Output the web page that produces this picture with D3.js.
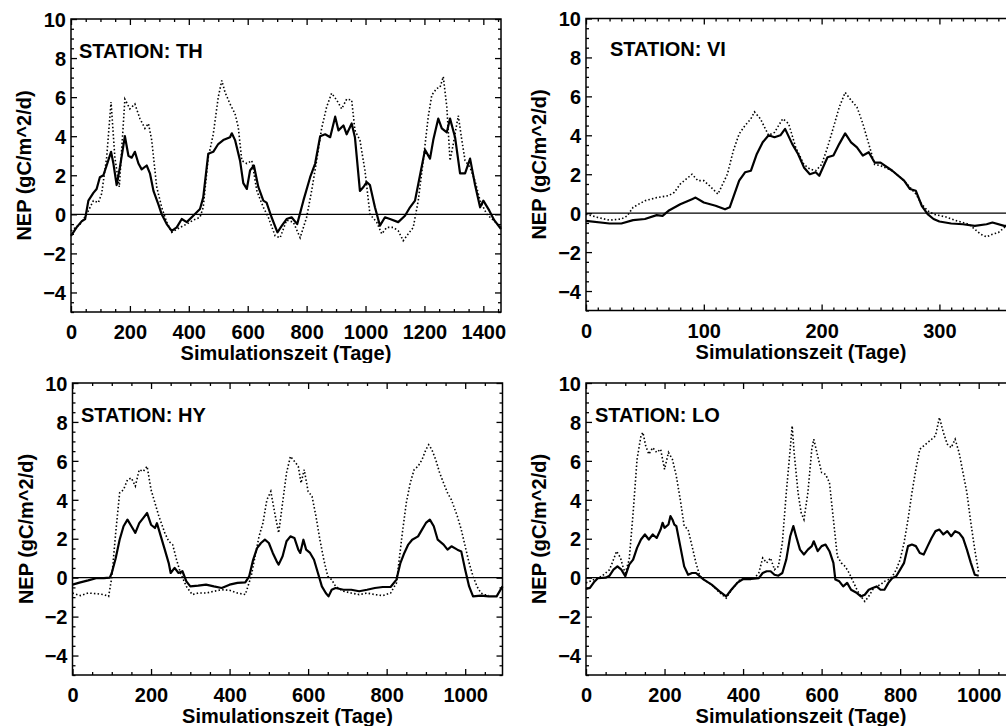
<!DOCTYPE html>
<html><head><meta charset="utf-8">
<script src="https://cdn.jsdelivr.net/npm/d3@7"></script>
<style>
body{margin:0;background:#fff;}
svg{display:block;}
text{font-family:"Liberation Sans",Arial,Helvetica,sans-serif;font-weight:bold;fill:#000;}
</style>
</head><body>
<svg id="chart" width="1006" height="726"></svg>
<script>
// ---------- data: [day, NEP] ----------
const thSolid = [[0,-1.1],[19,-0.67],[36,-0.36],[48,-0.24],[59,0.7],[76,1.1],[87,1.3],[98,1.9],[110,2.0],[121,2.5],[136,3.2],[144,2.6],[155,1.5],[166,2.4],[183,4.0],[195,3.0],[206,2.9],[217,3.2],[229,2.6],[240,2.3],[257,2.5],[268,2.1],[280,1.2],[297,0.5],[308,0],[325,-0.5],[342,-0.85],[359,-0.67],[376,-0.24],[393,-0.4],[415,-0.07],[438,0.27],[449,0.87],[466,3.1],[483,3.2],[500,3.6],[517,3.8],[540,3.95],[546,4.15],[557,3.8],[574,2.75],[585,1.6],[597,1.3],[608,2.25],[621,2.5],[636,1.4],[653,0.7],[664,0.6],[681,-0.15],[701,-0.92],[716,-0.58],[732,-0.24],[749,-0.15],[768,-0.5],[789,0.7],[812,1.9],[829,2.6],[846,4.0],[863,4.1],[880,3.95],[897,5.0],[908,4.3],[925,4.55],[936,4.1],[953,4.65],[964,3.95],[981,1.2],[993,1.4],[1004,1.65],[1015,1.5],[1032,0.36],[1049,-0.58],[1066,-0.15],[1083,-0.24],[1111,-0.4],[1134,-0.07],[1151,0.36],[1168,0.7],[1185,2.0],[1202,3.3],[1219,2.85],[1230,3.8],[1247,4.9],[1259,4.4],[1276,4.2],[1287,4.9],[1304,3.95],[1321,2.1],[1338,2.1],[1355,2.85],[1372,1.5],[1389,0.36],[1400,0.7],[1420,0.2],[1437,-0.3],[1460,-0.75]];
const thDotted = [[0,-0.85],[31,-0.5],[53,0],[76,0.7],[93,0.6],[104,1.05],[121,2.9],[136,5.75],[149,2.9],[164,1.4],[183,5.9],[200,5.4],[217,5.65],[234,4.9],[251,4.4],[263,4.65],[274,3.8],[291,1.4],[308,0.36],[325,-0.4],[342,-0.92],[370,-0.67],[393,-0.5],[415,-0.3],[438,-0.15],[449,0.36],[466,2.9],[483,4.1],[500,6.0],[512,6.85],[523,6.25],[540,5.65],[557,5.15],[568,4.45],[580,2.75],[597,2.6],[614,2.75],[631,1.2],[653,0.36],[670,-0.15],[693,-1.1],[710,-1.2],[732,-0.3],[755,-0.4],[778,-1.2],[800,-0.15],[817,1.2],[834,2.75],[851,4.4],[868,5.5],[885,6.2],[902,5.85],[919,5.4],[936,5.9],[953,5.85],[964,4.3],[981,3.8],[998,2.25],[1015,0],[1038,-0.4],[1055,-1.0],[1072,-0.67],[1094,-0.67],[1111,-0.84],[1128,-1.35],[1145,-1.0],[1162,-0.67],[1179,0.7],[1196,2.75],[1213,5.0],[1225,6.1],[1242,6.45],[1253,6.5],[1264,7.05],[1276,5.5],[1287,2.75],[1298,3.6],[1315,5.05],[1327,3.8],[1338,2.75],[1355,2.4],[1372,1.7],[1389,0.7],[1412,0],[1434,-0.3],[1460,-0.67]];

const viSolid = [[0,-0.4],[20,-0.53],[30,-0.53],[40,-0.36],[50,-0.3],[60,-0.1],[65,-0.14],[70,0.12],[80,0.46],[90,0.72],[93,0.8],[100,0.55],[110,0.38],[118,0.2],[122,0.3],[130,1.67],[135,2.1],[140,2.18],[145,3.04],[150,3.64],[155,4.0],[160,3.9],[165,4.0],[169,4.33],[175,3.56],[180,3.04],[185,2.35],[190,2.0],[195,2.1],[198,1.92],[205,2.87],[210,2.96],[215,3.56],[220,4.1],[225,3.64],[230,3.38],[235,2.96],[240,3.13],[245,2.6],[250,2.6],[260,2.18],[270,1.67],[275,1.24],[280,1.15],[285,0.38],[290,-0.05],[295,-0.3],[300,-0.43],[310,-0.53],[320,-0.57],[330,-0.65],[340,-0.57],[345,-0.48],[355,-0.65],[365,-0.7]];
const viDotted = [[0,-0.05],[10,-0.22],[20,-0.36],[30,-0.3],[35,-0.14],[40,0.3],[50,0.64],[60,0.8],[70,0.9],[75,1.07],[80,1.5],[90,2.0],[95,1.67],[100,1.67],[105,1.4],[112,0.98],[120,2.0],[125,3.2],[130,4.07],[135,4.5],[140,4.85],[143,5.2],[148,4.85],[155,4.0],[160,4.15],[167,4.85],[172,4.6],[178,3.38],[185,2.5],[190,2.27],[195,2.18],[200,2.5],[205,3.38],[210,4.4],[215,5.45],[220,6.2],[225,5.8],[230,5.45],[235,4.6],[240,3.56],[245,2.5],[250,2.44],[260,2.18],[270,1.67],[280,0.98],[285,0.46],[290,0.12],[295,-0.05],[305,-0.19],[315,-0.4],[325,-0.57],[335,-1.08],[340,-1.22],[345,-1.08],[350,-1.0],[355,-0.74],[365,-0.4]];

const hySolid = [[0,-0.36],[20,-0.24],[40,-0.14],[60,-0.03],[80,-0.02],[95,0],[100,0.24],[110,1.0],[120,1.95],[130,2.64],[140,2.98],[150,2.64],[160,2.3],[170,2.8],[180,3.06],[190,3.32],[200,2.72],[210,2.55],[215,2.8],[225,2.12],[235,1.44],[245,0.75],[250,0.24],[260,0.5],[270,0.24],[280,0.33],[290,-0.19],[300,-0.45],[320,-0.41],[340,-0.36],[360,-0.45],[380,-0.53],[400,-0.36],[420,-0.27],[440,-0.24],[450,0.07],[460,0.92],[470,1.52],[480,1.78],[490,1.95],[500,1.78],[510,1.27],[520,0.84],[525,0.67],[535,1.1],[545,1.87],[555,2.12],[565,2.04],[575,1.44],[580,1.27],[588,1.95],[595,1.44],[605,1.27],[615,0.92],[625,0.24],[635,-0.45],[645,-0.79],[652,-0.96],[660,-0.62],[670,-0.53],[690,-0.62],[710,-0.62],[730,-0.7],[750,-0.62],[770,-0.53],[790,-0.48],[810,-0.48],[825,-0.1],[835,0.75],[845,1.27],[855,1.7],[865,1.95],[880,2.12],[890,2.47],[900,2.81],[910,2.98],[920,2.64],[930,1.95],[945,1.7],[955,1.44],[965,1.61],[980,1.44],[990,1.35],[1000,0.41],[1010,-0.45],[1020,-0.96],[1040,-0.92],[1060,-0.96],[1080,-0.96],[1095,-0.45]];
const hyDotted = [[0,-0.79],[20,-0.92],[40,-0.79],[60,-0.82],[80,-0.87],[92,-0.96],[100,0],[110,2.3],[120,4.35],[130,4.52],[140,5.03],[150,5.12],[160,4.7],[170,5.55],[180,5.46],[190,5.72],[200,4.52],[210,3.84],[220,3.15],[235,2.3],[245,1.87],[255,1.7],[265,0.92],[275,0.24],[290,-0.45],[305,-0.87],[320,-0.79],[340,-0.79],[360,-0.7],[380,-0.62],[400,-0.65],[420,-0.79],[440,-0.87],[455,0.07],[465,1.1],[475,2.12],[485,2.81],[495,4.0],[505,4.43],[515,3.32],[525,2.3],[535,3.84],[545,5.38],[555,6.23],[565,5.98],[575,5.72],[582,4.86],[590,5.55],[600,4.43],[610,4.18],[620,3.15],[630,1.95],[640,0.92],[650,0.07],[660,-0.1],[670,-0.45],[690,-0.7],[710,-0.79],[730,-0.87],[750,-0.79],[770,-0.87],[790,-0.92],[810,-0.79],[825,-0.27],[840,2.3],[850,3.84],[860,4.86],[870,5.55],[880,5.72],[890,6.06],[900,6.58],[907,6.83],[915,6.58],[925,6.06],[935,5.38],[945,4.86],[955,4.35],[965,4.0],[980,3.15],[990,2.47],[1000,1.61],[1010,0.75],[1020,0.07],[1030,-0.45],[1040,-0.79],[1050,-0.87],[1060,-0.92]];

const loSolid = [[0,-0.58],[10,-0.53],[20,-0.24],[30,-0.03],[50,0],[60,0.1],[70,0.41],[80,0.58],[90,0.41],[100,0.07],[110,0.67],[120,0.93],[130,1.53],[140,1.96],[150,2.22],[160,1.96],[170,2.22],[180,2.04],[190,2.47],[195,2.82],[200,2.56],[210,2.73],[215,3.16],[220,2.99],[225,2.73],[230,2.65],[240,1.62],[250,0.58],[260,0.15],[270,0.24],[280,0.24],[290,0.07],[300,-0.1],[320,-0.36],[340,-0.7],[357,-0.96],[370,-0.62],[385,-0.27],[400,-0.07],[420,-0.07],[440,-0.02],[450,0.24],[460,0.33],[470,0.33],[480,0.15],[490,0.1],[500,0.24],[510,0.93],[520,2.13],[528,2.65],[535,2.13],[545,1.44],[555,1.19],[565,1.44],[575,1.62],[580,1.87],[590,1.36],[600,1.62],[610,1.7],[620,1.36],[630,0.76],[635,-0.1],[645,-0.19],[655,-0.45],[665,-0.27],[675,-0.62],[690,-0.79],[700,-0.96],[710,-0.88],[720,-0.62],[730,-0.53],[740,-0.45],[750,-0.62],[760,-0.62],[770,-0.27],[780,-0.02],[790,0.07],[800,0.41],[810,0.76],[820,1.62],[830,1.7],[840,1.62],[850,1.27],[860,1.19],[870,1.62],[880,2.04],[890,2.39],[900,2.47],[910,2.22],[920,2.39],[930,2.13],[940,2.39],[950,2.3],[960,2.04],[970,1.44],[980,0.76],[990,0.15],[1000,0.1]];
const loDotted = [[0,-0.27],[20,-0.1],[40,0.07],[60,0.41],[70,0.93],[78,1.36],[88,1.01],[95,0.5],[100,0.24],[110,0.93],[120,3.33],[130,6.08],[140,7.29],[145,7.46],[152,6.77],[160,6.34],[170,6.68],[180,6.43],[190,6.6],[195,6.08],[200,5.57],[210,6.43],[220,6.08],[230,5.22],[240,4.02],[250,2.65],[260,2.47],[270,1.62],[280,0.76],[290,0.07],[300,-0.1],[320,-0.36],[340,-0.76],[357,-1.05],[370,-0.65],[390,-0.14],[410,-0.03],[430,0],[440,0.24],[450,1.01],[460,0.76],[470,1.01],[480,0.41],[490,0.58],[500,1.79],[510,4.36],[520,6.6],[525,7.8],[530,6.43],[540,4.36],[548,3.33],[555,2.99],[565,4.36],[575,6.6],[580,7.11],[590,6.25],[600,5.4],[610,5.31],[620,4.88],[630,2.99],[640,1.1],[650,0.76],[660,0.58],[670,0.24],[680,-0.19],[690,-0.62],[700,-0.96],[710,-1.22],[720,-0.96],[730,-0.62],[740,-0.45],[750,-0.36],[760,-0.19],[770,-0.1],[780,0.07],[790,0.41],[800,0.93],[810,1.79],[820,2.99],[830,4.36],[840,5.57],[850,6.6],[860,6.77],[870,6.94],[880,7.11],[890,7.29],[900,8.23],[910,7.46],[920,6.86],[930,6.68],[940,7.11],[950,6.43],[960,5.4],[970,4.36],[980,2.82],[990,1.44],[1000,0.24]];

// tick labels
const yTicks = [-4,-2,0,2,4,6,8,10];
const xTicksTH = [0,200,400,600,800,1000,1200,1400];
const xTicksVI = [0,100,200,300];
const xTicksHY = [0,200,400,600,800,1000];
const xTicksLO = [0,200,400,600,800,1000];

const stations = ["STATION: TH","STATION: VI","STATION: HY","STATION: LO"];
const xTitle = "Simulationszeit (Tage)";
const yTitle = "NEP (gC/m^2/d)";

// ---------- layout ----------
const panels = [
  {label:stations[0], xmax:1460, ticks:xTicksTH, minor:50, solid:thSolid, dotted:thDotted,
   L:71, R:501, T:19, B:312, lx:79, ly:57.5, clip:[0,0,512,363]},
  {label:stations[1], xmax:365, ticks:xTicksVI, minor:10, solid:viSolid, dotted:viDotted,
   L:586, R:1016, T:18.5, B:310.5, lx:610, ly:56, clip:[512,0,494,363]},
  {label:stations[2], xmax:1095, ticks:xTicksHY, minor:50, solid:hySolid, dotted:hyDotted,
   L:72.5, R:502.5, T:383, B:675, lx:81, ly:421.5, clip:[0,363,512,363]},
  {label:stations[3], xmax:1095, ticks:xTicksLO, minor:50, solid:loSolid, dotted:loDotted,
   L:586, R:1016, T:383, B:675, lx:595, ly:421.5, clip:[512,363,494,363]}
];

const svg = d3.select("#chart");
const defs = svg.append("defs");
const FS = 20;
const fmt = d3.format("d");

panels.forEach((p, i) => {
  defs.append("clipPath").attr("id","cell"+i).append("rect")
    .attr("x",p.clip[0]).attr("y",p.clip[1]).attr("width",p.clip[2]).attr("height",p.clip[3]);
  const g = svg.append("g").attr("clip-path",`url(#cell${i})`);
  const x = d3.scaleLinear().domain([0,p.xmax]).range([p.L,p.R]);
  const y = d3.scaleLinear().domain([-5,10]).range([p.B,p.T]);

  const minorX = d3.range(0, p.xmax+0.001, p.minor).filter(v => !p.ticks.includes(v));
  const minorY = d3.range(-5, 10.001, 0.5).filter(v => !yTicks.includes(v));

  const mkAxis = (fn, scale, vals, size, pos, labels) => {
    const a = fn(scale).tickValues(vals).tickSizeInner(-size).tickSizeOuter(0);
    a.tickFormat(labels ? fmt : "");
    const ag = g.append("g").attr("transform", pos).call(a);
    ag.select(".domain").remove();
    ag.selectAll("line").attr("stroke","#000").attr("stroke-width",1.3);
    return ag;
  };
  // bottom
  const bx = mkAxis(d3.axisBottom, x, p.ticks, 6, `translate(0,${p.B})`, true);
  bx.selectAll("text").attr("y", 0).attr("dy", 0)
    .attr("transform","translate(0,27)").style("font-size",FS+"px").style("font-family",null);
  mkAxis(d3.axisBottom, x, minorX, 3, `translate(0,${p.B})`, false);
  // top
  mkAxis(d3.axisTop, x, p.ticks, 6, `translate(0,${p.T})`, false);
  mkAxis(d3.axisTop, x, minorX, 3, `translate(0,${p.T})`, false);
  // left
  const ly = mkAxis(d3.axisLeft, y, yTicks, 6, `translate(${p.L},0)`, true);
  ly.selectAll("text").attr("x", -5).attr("dy","0.36em").style("font-size",FS+"px").style("font-family",null);
  mkAxis(d3.axisLeft, y, minorY, 3, `translate(${p.L},0)`, false);
  // right
  mkAxis(d3.axisRight, y, yTicks, 6, `translate(${p.R},0)`, false);
  mkAxis(d3.axisRight, y, minorY, 3, `translate(${p.R},0)`, false);
  g.selectAll(".tick text").attr("fill","#000");

  // frame
  g.append("rect").attr("x",p.L).attr("y",p.T).attr("width",p.R-p.L).attr("height",p.B-p.T)
    .attr("fill","none").attr("stroke","#000").attr("stroke-width",1.5);

  // zero line
  g.append("line").attr("x1",x(0)).attr("x2",x(p.xmax)).attr("y1",y(0)).attr("y2",y(0))
    .attr("stroke","#000").attr("stroke-width",1.2);

  const line = d3.line().x(d => x(d[0])).y(d => y(d[1]));
  g.append("path").datum(p.dotted).attr("d",line).attr("fill","none")
    .attr("stroke","#000").attr("stroke-width",1.6).attr("stroke-dasharray","1.5,2.2");
  g.append("path").datum(p.solid).attr("d",line).attr("fill","none")
    .attr("stroke","#000").attr("stroke-width",2.2).attr("stroke-linejoin","round");

  // station label
  g.append("text").attr("x",p.lx).attr("y",p.ly).style("font-size",FS+"px").text(p.label);
  // x title
  g.append("text").attr("x",(p.L+p.R)/2).attr("y",p.B+48).attr("text-anchor","middle")
    .style("font-size",FS+"px").text(xTitle);
  // y title
  const cy = (p.T+p.B)/2;
  g.append("text").attr("transform",`translate(${p.L-40},${cy}) rotate(-90)`)
    .attr("text-anchor","middle").style("font-size",FS+"px").text(yTitle);
});
</script>
</body></html>
